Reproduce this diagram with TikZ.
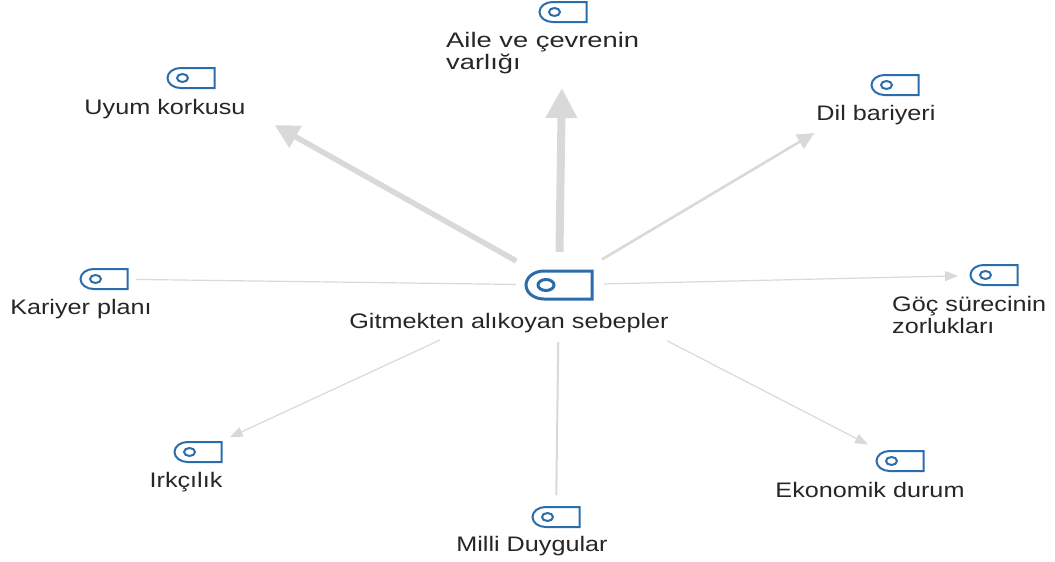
\documentclass[tikz,border=0pt]{standalone}
\usepackage{fontspec}
\setmainfont[FakeStretch=1.2]{Liberation Sans}
\usetikzlibrary{positioning, arrows.meta}
\definecolor{tagblue}{HTML}{2B6CAB}
\definecolor{linkgrey}{HTML}{D9D9D9}
\definecolor{textgrey}{HTML}{262626}
\tikzset{>={Triangle[length=13pt, width=10pt]}, x=1pt, y=-1pt,
    tagshape/.style={minimum width=47pt, minimum height=20pt, inner sep=0pt, outer sep=0pt,
        append after command={\pgfextra{
            \draw[tagblue, line width=2pt]
            (\tikzlastnode.north east) -- (\tikzlastnode.south east) -- ([xshift=13pt]\tikzlastnode.south west)
            arc[start angle=270, end angle=90, x radius=13pt, y radius=10pt] -- cycle
            ([xshift=15pt]\tikzlastnode.west) ellipse[x radius=5.5pt, y radius=4pt];}}},
    hubshape/.style={minimum width=66pt, minimum height=28pt, inner sep=0pt, outer sep=0pt,
        append after command={\pgfextra{
            \draw[tagblue, line width=3pt]
            (\tikzlastnode.north east) -- (\tikzlastnode.south east) -- ([xshift=18pt]\tikzlastnode.south west)
            arc[start angle=270, end angle=90, x radius=18pt, y radius=14pt] -- cycle
            ([xshift=20pt]\tikzlastnode.west) ellipse[x radius=8pt, y radius=5.5pt];}}},
    caption/.style={font=\fontsize{21pt}{25pt}\selectfont, text=textgrey, inner sep=0pt, align=left},
    link/.style={draw=linkgrey, line width=#1},
}

\begin{document}
\begin{tikzpicture}
    \useasboundingbox (0,0) rectangle (1055,562);
    \node[hubshape] (hub) at (559,285) {};
    \node[tagshape] (aile) at (563,12) {};
    \node[tagshape] (uyum) at (191,78) {};
    \node[tagshape] (dil) at (895,85) {};
    \node[tagshape] (kariyer) at (104,279) {};
    \node[tagshape] (goc) at (994,275) {};
    \node[tagshape] (irk) at (198,452) {};
    \node[tagshape] (ekonomi) at (900,461) {};
    \node[tagshape] (milli) at (556,517) {};

    \node[caption, anchor=base] at (509,328) {Gitmekten alıkoyan sebepler};
    \node[caption, anchor=north west, xscale=1.085, transform shape] at (446,32) {Aile ve çevrenin\\[-3pt]varlığı};
    \node[caption, anchor=base] at (165,114) {Uyum korkusu};
    \node[caption, anchor=base] at (876,120) {Dil bariyeri};
    \node[caption, anchor=base] at (81,314) {Kariyer planı};
    \node[caption, anchor=north west] at (892,296) {Göç sürecinin\\[-3pt]zorlukları};
    \node[caption, anchor=base] at (186,487) {Irkçılık};
    \node[caption, anchor=base] at (870,497) {Ekonomik durum};
    \node[caption, anchor=base] at (532,551) {Milli Duygular};

    \draw[link=5.5pt, -{Triangle[length=24pt, width=24pt]}, shorten <=49pt, shorten >=96pt] (hub.center) -- (uyum.center);
    \draw[link=8pt, -{Triangle[length=30pt, width=30pt]}, shorten <=33pt, shorten >=76pt] (hub.center) -- (aile.center);
    \draw[link=2.6pt, -{Triangle[length=17pt, width=16pt]}, shorten <=50pt, shorten >=94pt] (hub.center) -- (dil.center);
    \draw[link=1.2pt, shorten <=43pt, shorten >=32pt] (hub.center) -- (kariyer.center);
    \draw[link=1.2pt, ->, shorten <=45pt, shorten >=36pt] (hub.center) -- (goc.center);
    \draw[link=1.2pt, ->, shorten <=122pt, shorten >=36pt] (hub.center) -- (ekonomi.center);
    \draw[link=2pt, shorten <=57pt, shorten >=22pt] (hub.center) -- (milli.center);
    \draw[link=1.2pt, ->, shorten <=131pt, shorten >=35pt] (hub.center) -- (irk.center);
\end{tikzpicture}
\end{document}
